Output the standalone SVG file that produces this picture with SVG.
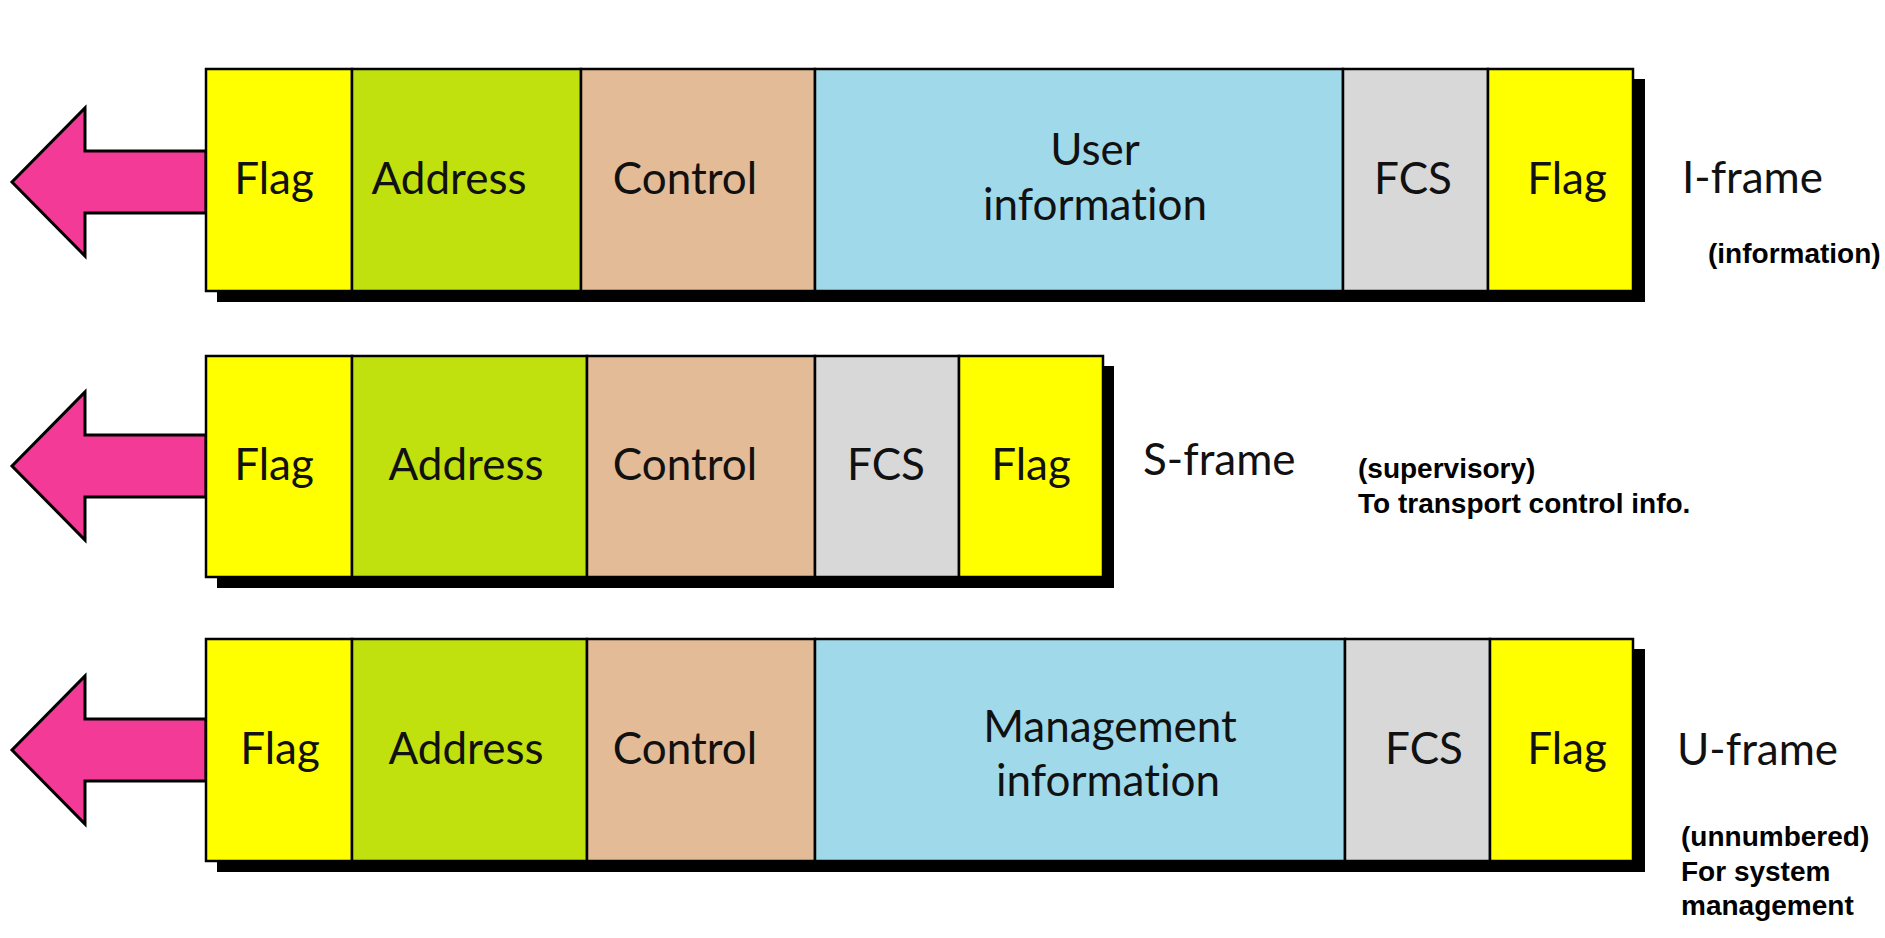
<svg xmlns="http://www.w3.org/2000/svg" width="1885" height="938" viewBox="0 0 1885 938">
<style>
.cell{stroke:#000;stroke-width:2.5}
.shadow{fill:#000}
.flag{fill:#FFFF00}
.addr{fill:#C0E10E}
.ctrl{fill:#E3BB96}
.info{fill:#A0DAEA}
.fcs{fill:#D8D8D8}
.arrow{fill:#F23A96;stroke:#000;stroke-width:3;stroke-linejoin:miter}
.t{font-family:Lato,"Open Sans","Liberation Sans",sans-serif;font-size:44px;fill:#111;text-anchor:middle;font-variant-ligatures:none;font-feature-settings:"liga" 0,"dlig" 0}
.lbl{font-family:Lato,"Open Sans","Liberation Sans",sans-serif;font-size:44px;fill:#111;font-variant-ligatures:none}
.note{font-family:"Liberation Sans",Arial,sans-serif;font-size:28px;font-weight:bold;fill:#000}
</style>
<rect width="1885" height="938" fill="#fff"/>

<g id="connectors">
  <polygon class="arrow" points="206,151 85,151 85,108 12,182 85,256 85,213 206,213"/>
  <polygon class="arrow" points="206,435 85,435 85,392 12,466 85,540 85,497 206,497"/>
  <polygon class="arrow" points="206,719 85,719 85,676 12,750 85,824 85,781 206,781"/>
</g>

<g id="i-frame">
  <rect class="shadow" x="217" y="79" width="1428" height="223"/>
  <rect class="cell flag" x="206" y="69" width="146" height="222"/>
  <rect class="cell addr" x="352" y="69" width="229" height="222"/>
  <rect class="cell ctrl" x="581" y="69" width="234" height="222"/>
  <rect class="cell info" x="815" y="69" width="528" height="222"/>
  <rect class="cell fcs" x="1343" y="69" width="145" height="222"/>
  <rect class="cell flag" x="1488" y="69" width="145" height="222"/>
  <text class="t" x="274" y="194">Flag</text>
  <text class="t" x="449" y="194">Address</text>
  <text class="t" x="685" y="194">Control</text>
  <text class="t" x="1095" y="165">User</text>
  <text class="t" x="1095" y="220">information</text>
  <text class="t" x="1413" y="194">FCS</text>
  <text class="t" x="1567" y="194">Flag</text>
  <text class="lbl" x="1682" y="193">I-frame</text>
  <text class="note" x="1708" y="263">(information)</text>
</g>

<g id="s-frame">
  <rect class="shadow" x="217" y="366" width="897" height="222"/>
  <rect class="cell flag" x="206" y="356" width="146" height="221"/>
  <rect class="cell addr" x="352" y="356" width="235" height="221"/>
  <rect class="cell ctrl" x="587" y="356" width="228" height="221"/>
  <rect class="cell fcs" x="815" y="356" width="144" height="221"/>
  <rect class="cell flag" x="959" y="356" width="144" height="221"/>
  <text class="t" x="274" y="480">Flag</text>
  <text class="t" x="466" y="480">Address</text>
  <text class="t" x="685" y="480">Control</text>
  <text class="t" x="886" y="480">FCS</text>
  <text class="t" x="1031" y="480">Flag</text>
  <text class="lbl" x="1143" y="475">S-frame</text>
  <text class="note" x="1358" y="478">(supervisory)</text>
  <text class="note" x="1358" y="513">To transport control info.</text>
</g>

<g id="u-frame">
  <rect class="shadow" x="217" y="649" width="1428" height="223"/>
  <rect class="cell flag" x="206" y="639" width="146" height="222"/>
  <rect class="cell addr" x="352" y="639" width="235" height="222"/>
  <rect class="cell ctrl" x="587" y="639" width="228" height="222"/>
  <rect class="cell info" x="815" y="639" width="530" height="222"/>
  <rect class="cell fcs" x="1345" y="639" width="145" height="222"/>
  <rect class="cell flag" x="1490" y="639" width="143" height="222"/>
  <text class="t" x="280" y="764">Flag</text>
  <text class="t" x="466" y="764">Address</text>
  <text class="t" x="685" y="764">Control</text>
  <text class="t" x="1110" y="742">Management</text>
  <text class="t" x="1108" y="796">information</text>
  <text class="t" x="1424" y="764">FCS</text>
  <text class="t" x="1567" y="764">Flag</text>
  <text class="lbl" x="1677" y="765">U-frame</text>
  <text class="note" x="1681" y="846">(unnumbered)</text>
  <text class="note" x="1681" y="881">For system</text>
  <text class="note" x="1681" y="915">management</text>
</g>
</svg>
